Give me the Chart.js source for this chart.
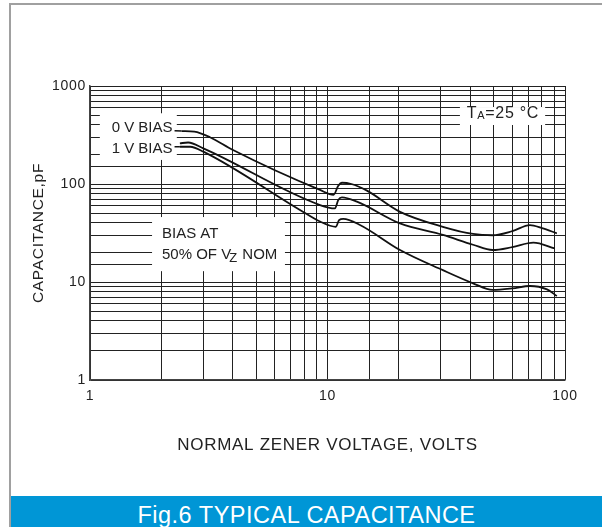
<!DOCTYPE html>
<html>
<head>
<meta charset="utf-8">
<title>Fig.6 Typical Capacitance</title>
<script src="https://cdn.jsdelivr.net/npm/chart.js@4.4.1/dist/chart.umd.min.js"></script>
<style>
  html, body { margin: 0; padding: 0; background: #fff; }
  body {
    width: 602px; height: 527px; position: relative; overflow: hidden;
    font-family: Arial, "Liberation Sans", sans-serif;
  }
  .frame {
    position: absolute; left: 9px; top: 3px; right: 0; bottom: 0;
    border-left: 2px solid #a0a0a0; border-top: 2px solid #a0a0a0;
  }
  #chart { position: absolute; left: 0; top: 0; }
  .caption {
    position: absolute; left: 11px; right: 0; top: 496px; height: 31px;
    background: #0096d6; color: #fff;
    font-size: 23.5px; line-height: 38px; text-align: center; letter-spacing: 0.5px;
    white-space: nowrap;
  }
</style>
</head>
<body>
<div class="frame"></div>
<canvas id="chart" width="602" height="527"></canvas>
<div class="caption">Fig.6 TYPICAL CAPACITANCE</div>

<script>
/**
 * Fig.6 — typical capacitance vs. nominal zener voltage (log / log)
 */

// 0 V bias curve
const zeroBiasVolts = [2.43, 2.75, 3.2, 4.0, 9.3, 10.6, 11.1, 11.5, 12.6, 14.6, 20.2, 30.6, 41, 49.6, 60, 71.2, 80, 92.4];
const zeroBiasPf    = [347, 342, 300, 222, 87, 77.5, 96, 103, 100, 86, 52, 36.6, 30.9, 30.0, 33, 38.1, 35.5, 31.4];

// 1 V bias curve
const oneBiasVolts = [2.39, 2.59, 3.0, 9.3, 10.75, 11.1, 11.5, 13.3, 20.2, 30.6, 41, 49.6, 60, 73.6, 90.6];
const oneBiasPf    = [260, 265, 231, 61, 56.3, 68.6, 73, 66, 39.6, 30.2, 24.0, 21.2, 22.7, 25.2, 22.0];

// bias at 50% of Vz nom
const halfBiasVolts = [2.39, 2.64, 3.0, 7.66, 9.3, 10.85, 11.2, 11.65, 13.7, 20.2, 30.6, 41, 49.6, 60, 71.2, 84, 92.4];
const halfBiasPf    = [240, 240, 214, 54.3, 41.4, 36.6, 43, 44, 38.2, 21.2, 13.2, 9.7, 8.3, 8.6, 9.1, 8.4, 7.2];

// axis ranges (labels only on the decades)
const voltsRange = [1, 100];
const pfRange = [1, 1000];

const textColor = '#222';
const fontFamily = "Arial, 'Liberation Sans', sans-serif";

function toPoints(xs, ys) {
  return xs.map((x, i) => ({ x, y: ys[i] }));
}

function isDecade(v) {
  return Math.abs(Math.log10(v) - Math.round(Math.log10(v))) < 1e-9;
}

// axis lettering in the original is a little spaced out
const spacingPlugin = {
  id: 'spacing',
  beforeDraw(chart) { chart.ctx.letterSpacing = '0.7px'; },
  afterDraw(chart) { chart.ctx.letterSpacing = '0px'; },
};

// White note boxes with the curve labels, over the grid, under the curves
const notesPlugin = {
  id: 'notes',
  beforeDatasetsDraw(chart) {
    const { ctx } = chart;
    const xs = chart.scales.x;
    const ys = chart.scales.y;
    const px = v => xs.getPixelForValue(v);
    const py = v => ys.getPixelForValue(v);

    function box(x0, x1, y0, y1) {
      ctx.fillStyle = '#fff';
      ctx.fillRect(px(x0), py(y0), px(x1) - px(x0), py(y1) - py(y0));
    }

    ctx.save();
    ctx.letterSpacing = '0px';
    box(1.10, 2.32, 527, 176);
    box(1.825, 6.62, 46, 12.9);
    box(36.1, 82.5, 610, 400);

    ctx.fillStyle = textColor;
    ctx.textBaseline = 'middle';
    ctx.textAlign = 'left';
    ctx.font = `15px ${fontFamily}`;
    ctx.fillText('0 V BIAS', px(1.234), py(377));
    ctx.fillText('1 V BIAS', px(1.234), py(227));

    // leaders from label to curve start
    ctx.strokeStyle = '#111';
    ctx.lineWidth = 1.5;
    ctx.beginPath();
    ctx.moveTo(px(2.27), py(350));
    ctx.lineTo(px(zeroBiasVolts[0]), py(zeroBiasPf[0]));
    ctx.moveTo(px(2.27), py(240));
    ctx.lineTo(px(halfBiasVolts[0]), py(halfBiasPf[0]));
    ctx.stroke();

    // bias note
    ctx.fillText('BIAS AT', px(2.01), py(30.9));
    let x = px(2.01);
    const yLine = py(18.9);
    const first = '50% OF V';
    ctx.fillText(first, x, yLine);
    x += ctx.measureText(first).width;
    ctx.font = `13px ${fontFamily}`;
    ctx.fillText('Z', x - 2, yLine + 4);
    x += ctx.measureText('Z').width - 1;
    ctx.font = `15px ${fontFamily}`;
    ctx.fillText(' NOM', x, yLine);

    // temperature note
    ctx.letterSpacing = '0.7px';
    x = px(38.6);
    const yT = py(519);
    ctx.font = `16px ${fontFamily}`;
    ctx.fillText('T', x, yT);
    x += ctx.measureText('T').width;
    ctx.font = `11px ${fontFamily}`;
    ctx.fillText('A', x, yT + 2);
    x += ctx.measureText('A').width;
    ctx.font = `16px ${fontFamily}`;
    ctx.fillText('=25 °C', x, yT);
    ctx.restore();
  },
};

const curveStyle = {
  borderColor: '#111',
  borderWidth: 1.8,
  pointRadius: 0,
  fill: false,
  cubicInterpolationMode: 'monotone',
};

const ctx = document.getElementById('chart').getContext('2d');

const chart = new Chart(ctx, {
  type: 'line',
  data: {
    datasets: [
      { label: '0 V BIAS', data: toPoints(zeroBiasVolts, zeroBiasPf), ...curveStyle },
      { label: '1 V BIAS', data: toPoints(oneBiasVolts, oneBiasPf), ...curveStyle },
      { label: 'BIAS AT 50% OF VZ NOM', data: toPoints(halfBiasVolts, halfBiasPf), ...curveStyle },
    ],
  },
  options: {
    responsive: false,
    animation: false,
    layout: {
      padding: { top: 86, right: 37, left: 0, bottom: 0 },
    },
    plugins: {
      legend: { display: false },
      tooltip: { enabled: false },
    },
    scales: {
      x: {
        type: 'logarithmic',
        min: voltsRange[0],
        max: voltsRange[1],
        afterFit: scale => { scale.height = 147; },
        grid: { color: '#222', lineWidth: 1, drawTicks: false },
        border: { color: '#444', width: 1.5 },
        ticks: {
          autoSkip: false,
          maxRotation: 0,
          padding: 8,
          color: textColor,
          font: { size: 14, family: fontFamily },
          callback: v => (isDecade(v) ? String(v) : ''),
        },
        title: {
          display: true,
          text: 'NORMAL ZENER VOLTAGE, VOLTS',
          color: textColor,
          font: { size: 17, family: fontFamily },
          padding: { bottom: 71 },
        },
      },
      y: {
        type: 'logarithmic',
        min: pfRange[0],
        max: pfRange[1],
        afterFit: scale => { scale.width = 90; },
        grid: { color: '#222', lineWidth: 1, drawTicks: false },
        border: { color: '#444', width: 1.5 },
        ticks: {
          autoSkip: false,
          padding: 4,
          color: textColor,
          font: { size: 14, family: fontFamily },
          callback: v => (isDecade(v) ? String(v) : ''),
        },
        title: {
          display: true,
          text: 'CAPACITANCE,pF',
          color: textColor,
          font: { size: 15.5, family: fontFamily },
          padding: { top: 29 },
        },
      },
    },
  },
  plugins: [spacingPlugin, notesPlugin],
});
</script>
</body>
</html>
